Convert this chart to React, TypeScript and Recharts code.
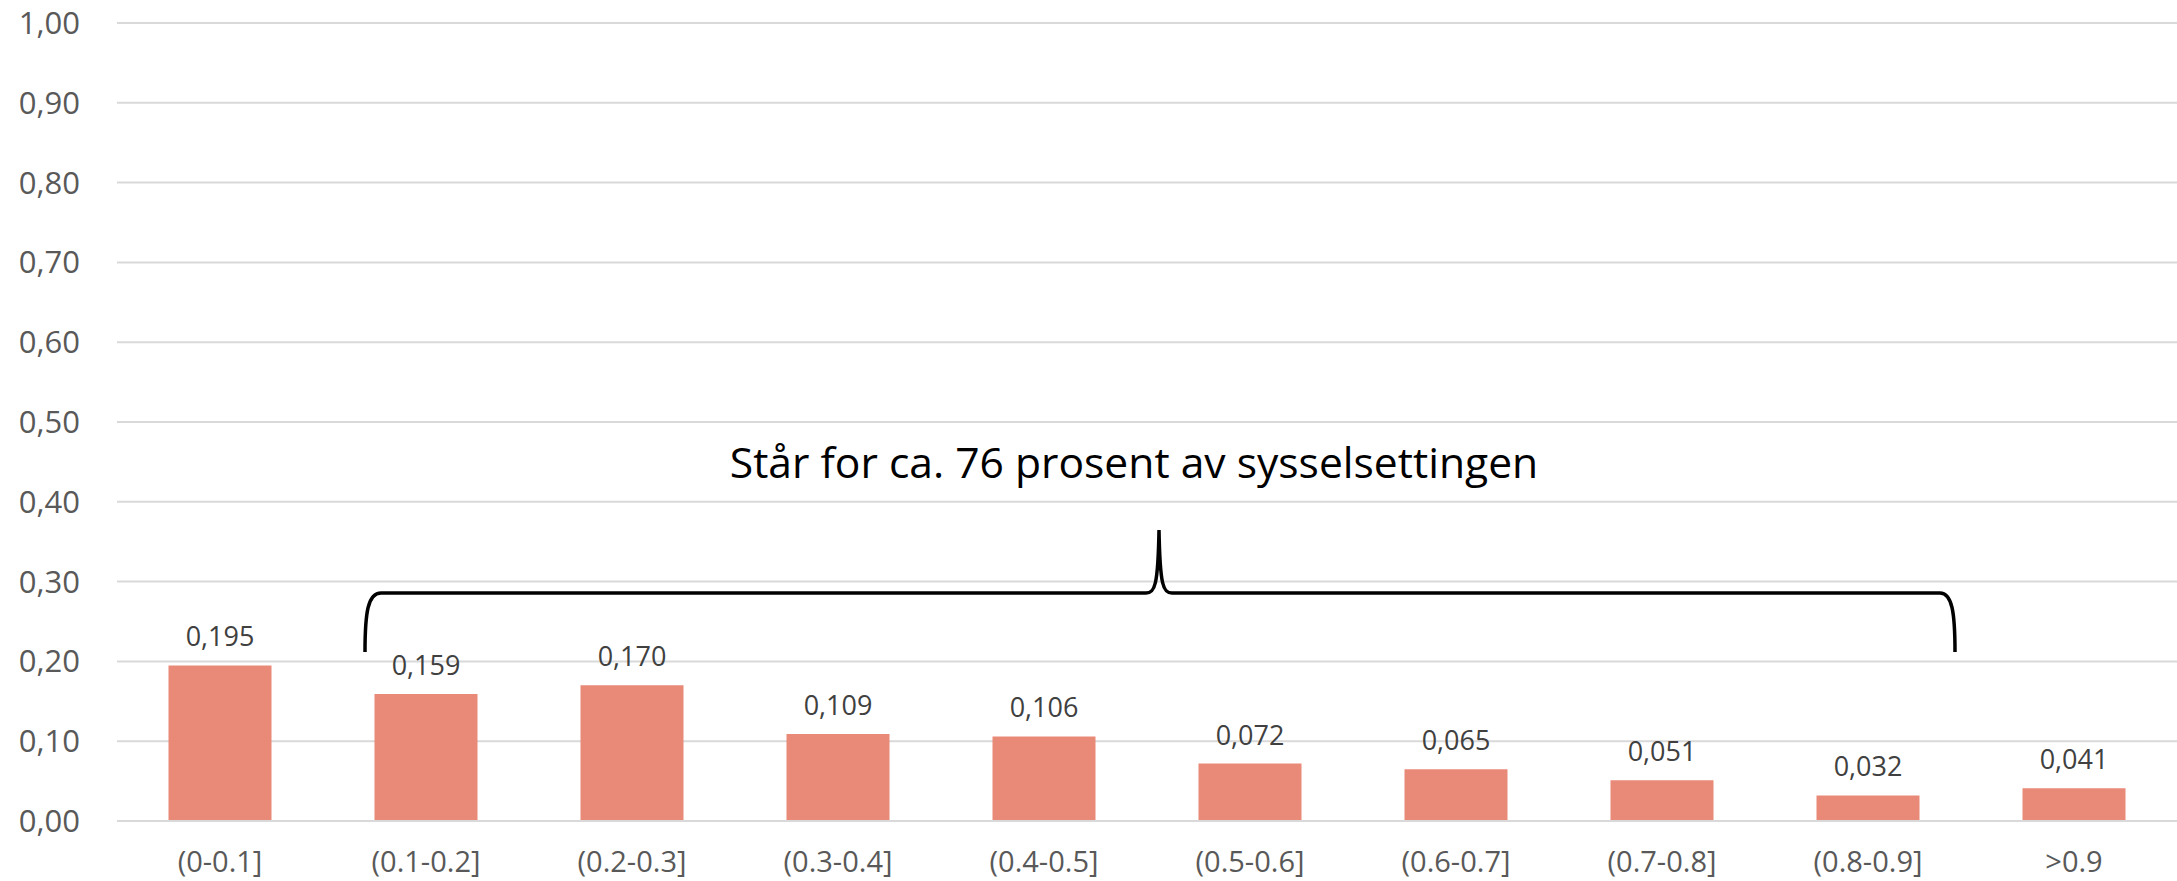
import { BarChart, Bar, XAxis, YAxis, CartesianGrid, LabelList } from 'recharts';

const categories = ['(0-0.1]', '(0.1-0.2]', '(0.2-0.3]', '(0.3-0.4]', '(0.4-0.5]', '(0.5-0.6]', '(0.6-0.7]', '(0.7-0.8]', '(0.8-0.9]', '>0.9'];
const shares = [0.195, 0.159, 0.17, 0.109, 0.106, 0.072, 0.065, 0.051, 0.032, 0.041];
const yTicks = [0, 0.1, 0.2, 0.3, 0.4, 0.5, 0.6, 0.7, 0.8, 0.9, 1.0];
const annotation = 'Står for ca. 76 prosent av sysselsettingen';

const data = categories.map((name, i) => ({ name, value: shares[i] }));

const W = 2177;
const H = 881;
const FONT = '"Open Sans", "Noto Sans", sans-serif';

// brace over bars 2-9 (pixel annotation)
const bracePath =
  'M365,652 C365,612 368,593 381,593 L1146,593 C1155,593 1158,585 1159,530 ' +
  'C1160,585 1163,593 1172,593 L1940,593 C1952,593 1955,612 1955,652';

export default function App() {
  return (
    <div style={{ position: 'absolute', left: 0, top: 0, width: W, height: H, background: '#fff', fontFamily: FONT }}>
      <BarChart
        width={W}
        height={H}
        data={data}
        margin={{ top: 23, right: 0, left: 0, bottom: 0 }}
        barCategoryGap="25%"
      >
        <CartesianGrid vertical={false} stroke="#D9D9D9" strokeWidth={2} />
        <XAxis
          dataKey="name"
          height={60}
          tickLine={false}
          tickSize={0}
          tickMargin={30}
          axisLine={{ stroke: '#D9D9D9', strokeWidth: 2 }}
          tick={{ fill: '#595959', fontSize: 29, fontFamily: FONT }}
          interval={0}
        />
        <YAxis
          width={117}
          domain={[0, 1]}
          ticks={yTicks}
          tickFormatter={(v: number) => v.toFixed(2).replace('.', ',')}
          axisLine={false}
          tickLine={false}
          tickSize={0}
          tickMargin={37}
          tick={{ fill: '#595959', fontSize: 31, fontFamily: FONT }}
        />
        <Bar dataKey="value" fill="#E98A79" isAnimationActive={false}>
          <LabelList
            dataKey="value"
            position="top"
            offset={19}
            fill="#404040"
            fontSize={27}
            fontFamily={FONT}
            formatter={(v: any) => Number(v).toFixed(3).replace('.', ',')}
          />
        </Bar>
      </BarChart>
      <svg width={W} height={H} style={{ position: 'absolute', left: 0, top: 0, pointerEvents: 'none' }}>
        <text x={1134} y={478} textAnchor="middle" fontSize={42.6} fontFamily={FONT} fill="#000">
          {annotation}
        </text>
        <path d={bracePath} fill="none" stroke="#000" strokeWidth={3.5} />
      </svg>
    </div>
  );
}
